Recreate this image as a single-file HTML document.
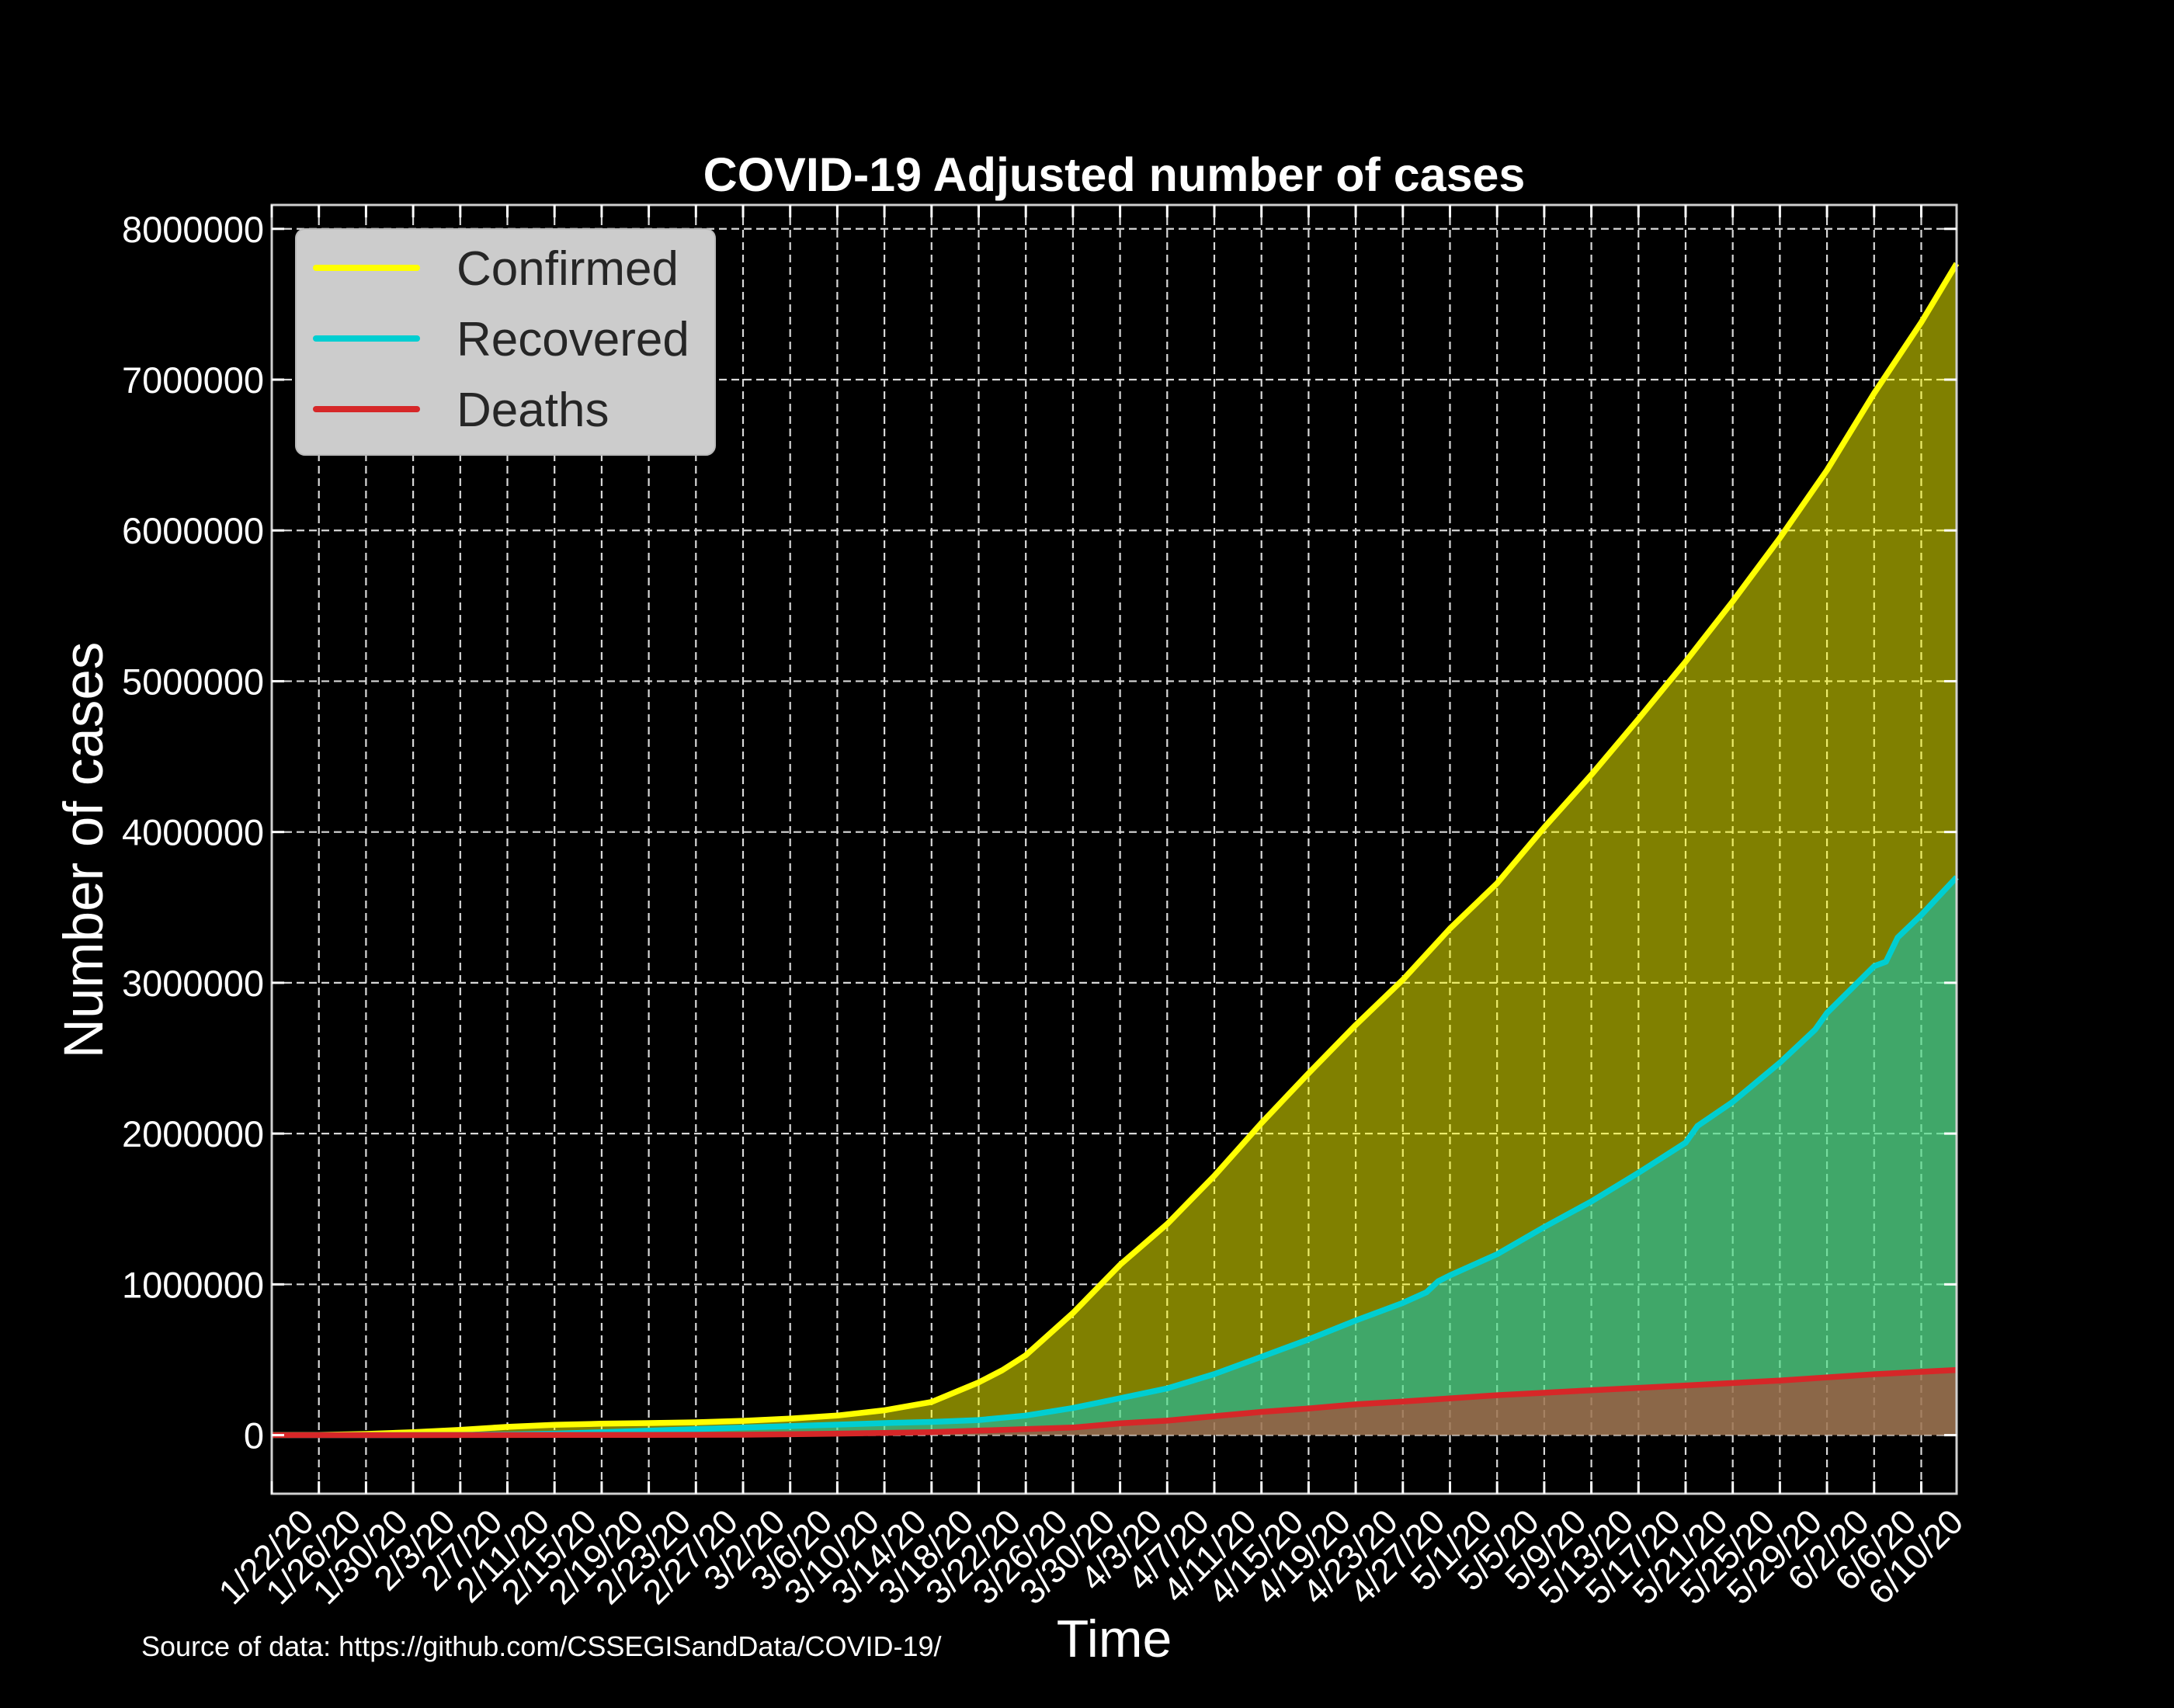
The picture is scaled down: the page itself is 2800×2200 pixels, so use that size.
<!DOCTYPE html>
<html><head><meta charset="utf-8"><style>
html,body{margin:0;padding:0;background:#000;}
svg{display:block;}
text{font-family:"Liberation Sans",Arial,sans-serif;}
</style></head><body>
<svg id="chart" width="2800" height="2200" viewBox="0 0 2800 2200" xmlns="http://www.w3.org/2000/svg">
<rect x="0" y="0" width="2800" height="2200" fill="#000"/>
<g id="grid"></g>
<g id="fills"></g>
<g id="lines"></g>
<g id="axes"></g>
<text x="1435" y="246" font-size="61" font-weight="bold" fill="#fff" text-anchor="middle">COVID-19 Adjusted number of cases</text>
<text transform="translate(132,1095) rotate(-90)" font-size="71" fill="#fff" text-anchor="middle">Number of cases</text>
<text x="1435" y="2134" font-size="68" fill="#fff" text-anchor="middle">Time</text>
<text x="182" y="2133" font-size="36" fill="#fff">Source of data: https://github.com/CSSEGISandData/COVID-19/</text>
<g>
<rect x="381" y="295" width="540" height="291" rx="12" fill="#cccccc" stroke="#bbbbbb" stroke-width="2"/>
<line x1="407" y1="345" x2="537" y2="345" stroke="#ffff00" stroke-width="8" stroke-linecap="round"/>
<text x="588" y="367" font-size="62" fill="#262626">Confirmed</text>
<line x1="407" y1="436" x2="537" y2="436" stroke="#00ced1" stroke-width="8" stroke-linecap="round"/>
<text x="588" y="458" font-size="62" fill="#262626">Recovered</text>
<line x1="407" y1="527" x2="537" y2="527" stroke="#d62728" stroke-width="8" stroke-linecap="round"/>
<text x="588" y="549" font-size="62" fill="#262626">Deaths</text>
</g>
</svg>
<script>
const dateLabels = ["1/22/20","1/26/20","1/30/20","2/3/20","2/7/20","2/11/20","2/15/20","2/19/20","2/23/20","2/27/20","3/2/20","3/6/20","3/10/20","3/14/20","3/18/20","3/22/20","3/26/20","3/30/20","4/3/20","4/7/20","4/11/20","4/15/20","4/19/20","4/23/20","4/27/20","5/1/20","5/5/20","5/9/20","5/13/20","5/17/20","5/21/20","5/25/20","5/29/20","6/2/20","6/6/20","6/10/20"];
const yTicks = [0,1000000,2000000,3000000,4000000,5000000,6000000,7000000,8000000];
const confirmedDays = [0,4,8,12,16,20,24,28,32,36,40,44,48,52,56,60,62,64,68,72,76,80,84,88,92,96,100,104,108,112,116,120,124,128,132,136,140,143];
const confirmedVals = [500,2000,8000,20000,35000,55000,68000,76000,80000,85000,95000,110000,130000,165000,220000,350000,430000,530000,810000,1130000,1400000,1720000,2070000,2400000,2720000,3020000,3360000,3660000,4030000,4380000,4750000,5130000,5530000,5950000,6400000,6910000,7380000,7770000];
const recoveredDays = [0,4,8,12,16,20,24,28,32,36,40,44,48,52,56,60,62,64,68,72,76,80,84,88,92,96,98,99,100,104,108,112,116,120,121,124,128,131,132,136,137,138,140,143];
const recoveredVals = [0,0,300,1000,2000,5000,10000,20000,30000,40000,50000,60000,70000,80000,88000,100000,115000,130000,180000,245000,310000,405000,520000,635000,760000,877000,947000,1020000,1060000,1200000,1380000,1550000,1740000,1940000,2050000,2210000,2470000,2690000,2800000,3110000,3140000,3300000,3450000,3700000];
const deathDays = [0,20,32,40,44,48,56,64,68,72,76,80,84,88,92,96,104,112,120,128,136,143];
const deathVals = [0,1000,2000,3000,6000,10000,20000,40000,50000,78000,96000,126000,154000,177000,204000,223000,265000,298000,329000,362000,404000,432000];

const NS = "http://www.w3.org/2000/svg";
const X0 = 350, X1 = 2520, Y0 = 264, Y1 = 1924;
const XMIN = 0, XMAX = 143, YMIN = -388500, YMAX = 8158500;
function xs(d){ return X0 + (d - XMIN) / (XMAX - XMIN) * (X1 - X0); }
function ys(v){ return Y1 - (v - YMIN) / (YMAX - YMIN) * (Y1 - Y0); }
function mk(tag, attrs, parent){
  const e = document.createElementNS(NS, tag);
  for (const k in attrs) e.setAttribute(k, attrs[k]);
  parent.appendChild(e);
  return e;
}
const grid = document.getElementById('grid');
const fills = document.getElementById('fills');
const lines = document.getElementById('lines');
const axes = document.getElementById('axes');

for (let k = 0; k < dateLabels.length; k++) {
  const x = xs(k * 4);
  const g = mk('line', {x1:x, y1:Y0, x2:x, y2:Y1, stroke:'#d8d8d8', 'stroke-width':2.2, 'stroke-dasharray':'10 6'}, grid);
  
  
}
yTicks.forEach(v => {
  const y = ys(v);
  const g = mk('line', {x1:X0, y1:y, x2:X1, y2:y, stroke:'#d8d8d8', 'stroke-width':2.2, 'stroke-dasharray':'10 6'}, grid);
  
  
});

function series(days, vals, color, name){
  let pts = days.map((d, i) => xs(d).toFixed(1) + ',' + ys(vals[i]).toFixed(1));
  const area = mk('polygon', {points: xs(days[0]).toFixed(1) + ',' + ys(0) + ' ' + pts.join(' ') + ' ' + xs(days[days.length-1]).toFixed(1) + ',' + ys(0), fill: color, 'fill-opacity': 0.5}, fills);
  
  
  const ln = mk('polyline', {points: pts.join(' '), fill:'none', stroke: color, 'stroke-width': 7.5, 'stroke-linejoin':'round', 'stroke-linecap':'butt'}, lines);
  
  
}
series(confirmedDays, confirmedVals, '#ffff00', 'confirmed');
series(recoveredDays, recoveredVals, '#00ced1', 'recovered');
series(deathDays, deathVals, '#d62728', 'deaths');

const fr = mk('rect', {x:X0, y:Y0, width:X1-X0, height:Y1-Y0, fill:'none', stroke:'#d0d0d0', 'stroke-width':3}, axes);



for (let k = 0; k < dateLabels.length; k++) {
  const x = xs(k * 4);
  const t1 = mk('line', {x1:x, y1:Y1, x2:x, y2:Y1-16, stroke:'#fff', 'stroke-width':3}, axes);
  
  
  const t2 = mk('line', {x1:x, y1:Y0, x2:x, y2:Y0+16, stroke:'#fff', 'stroke-width':3}, axes);
  
  
}
dateLabels.forEach((lab, i) => {
  const x = xs((i + 1) * 4) - 4, y = 1963;
  const t = mk('text', {x:x, y:y, 'font-size':45, fill:'#fff', 'text-anchor':'end', transform:'rotate(-45 ' + x + ' ' + y + ')'}, axes);
  t.textContent = lab;
  
  
});
yTicks.forEach(v => {
  const y = ys(v);
  const a = mk('line', {x1:X0, y1:y, x2:X0+16, y2:y, stroke:'#fff', 'stroke-width':3}, axes);
  
  
  const b = mk('line', {x1:X1, y1:y, x2:X1-16, y2:y, stroke:'#fff', 'stroke-width':3}, axes);
  
  
  const t = mk('text', {x:340, y:y+17, 'font-size':47, fill:'#fff', 'text-anchor':'end'}, axes);
  t.textContent = String(v);
  
  
});
</script>
</body></html>
